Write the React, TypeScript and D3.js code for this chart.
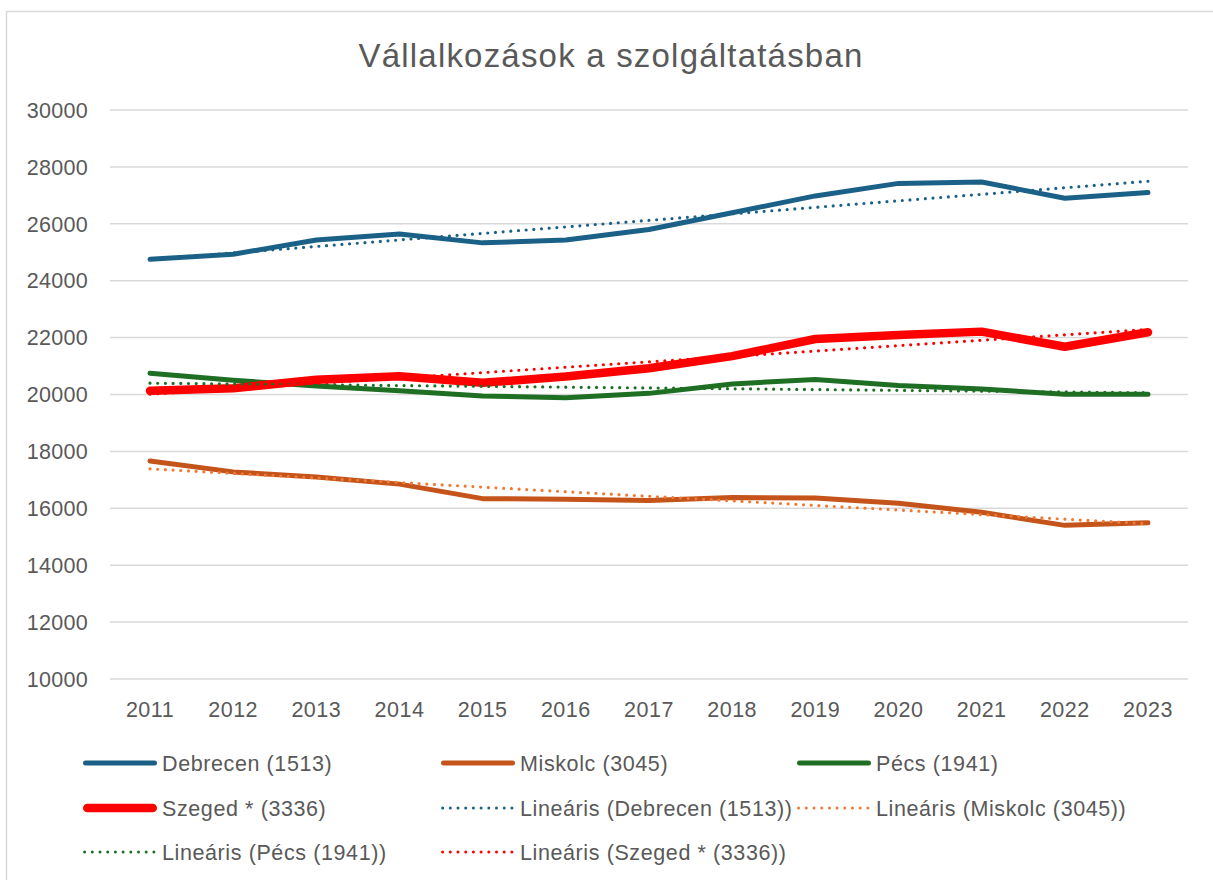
import React from "react";
import * as d3 from "d3";

const years = [2011, 2012, 2013, 2014, 2015, 2016, 2017, 2018, 2019, 2020, 2021, 2022, 2023];
const debrecen = [24750, 24930, 25430, 25640, 25330, 25430, 25800, 26390, 26980, 27420, 27470, 26900, 27100];
const miskolc = [17660, 17280, 17100, 16850, 16340, 16320, 16270, 16380, 16360, 16180, 15860, 15400, 15490];
const pecs = [20750, 20500, 20300, 20130, 19950, 19890, 20040, 20370, 20530, 20320, 20190, 20010, 20010];
const szeged = [20130, 20220, 20520, 20640, 20410, 20630, 20920, 21350, 21950, 22090, 22210, 21680, 22190];
const yTicks = [10000, 12000, 14000, 16000, 18000, 20000, 22000, 24000, 26000, 28000, 30000];
const title = "Vállalkozások a szolgáltatásban";

const seriesNames = ["Debrecen (1513)", "Miskolc (3045)", "Pécs (1941)", "Szeged * (3336)"];
const seriesValues = [debrecen, miskolc, pecs, szeged];
const seriesColors = ["#1B6187", "#C4541A", "#1E6E24", "#FF0000"];
const trendColors = ["#1B6187", "#EE7A35", "#1E6E24", "#FF0000"];
const seriesWidths = [5, 5, 5, 8.5];

const W = 1213;
const H = 880;
const FONT = "'Liberation Sans', Arial, sans-serif";
const GRAY = "#595959";

function linearFit(xs: number[], ys: number[]) {
  const n = xs.length;
  const mx = d3.mean(xs)!;
  const my = d3.mean(ys)!;
  let num = 0;
  let den = 0;
  for (let i = 0; i < n; i++) {
    num += (xs[i] - mx) * (ys[i] - my);
    den += (xs[i] - mx) * (xs[i] - mx);
  }
  const b = num / den;
  const a = my - b * mx;
  return xs.map((x) => a + b * x);
}

export default function App() {
  const x = d3.scalePoint<number>().domain(years).range([150, 1148]);
  const y = d3.scaleLinear().domain([10000, 30000]).range([679, 110]);
  const line = d3
    .line<number>()
    .x((_, i) => x(years[i])!)
    .y((v) => y(v));

  const trends = seriesValues.map((vals) => linearFit(years, vals));

  type LegendItem = { label: string; color: string; width: number; dotted: boolean };
  const legendItems: LegendItem[] = [
    ...seriesNames.map((n, i) => ({ label: n, color: seriesColors[i], width: seriesWidths[i], dotted: false })),
    ...seriesNames.map((n, i) => ({ label: `Lineáris (${n})`, color: trendColors[i], width: 3.2, dotted: true })),
  ];
  const colX = [83, 441, 797];
  const rowY = [763, 808, 852];

  return (
    <svg
      width={W}
      height={H}
      style={{ position: "absolute", left: 0, top: 0, background: "#fff" }}
      fontFamily={FONT}
    >
      <rect x={0} y={0} width={W} height={H} fill="#fff" />
      <path d={`M6.5,${H} V11.5 H${W}`} fill="none" stroke="#d9d9d9" strokeWidth={1.5} />
      <text x={611} y={67} textAnchor="middle" fontSize={33} letterSpacing={1.2} fill={GRAY}>
        {title}
      </text>
      {yTicks.map((t) => (
        <g key={t}>
          <line x1={110} x2={1188} y1={y(t)} y2={y(t)} stroke="#d9d9d9" strokeWidth={1.5} />
          <text x={88} y={y(t)} dy="0.36em" textAnchor="end" fontSize={21.5} letterSpacing={0.3} fill={GRAY}>
            {t}
          </text>
        </g>
      ))}
      {years.map((yr) => (
        <text key={yr} x={x(yr)} y={717} textAnchor="middle" fontSize={21.5} letterSpacing={0.5} fill={GRAY}>
          {yr}
        </text>
      ))}
      {seriesValues.map((vals, i) => (
        <path
          key={`s${i}`}
          d={line(vals)!}
          fill="none"
          stroke={seriesColors[i]}
          strokeWidth={seriesWidths[i]}
          strokeLinecap="round"
          strokeLinejoin="round"
        />
      ))}
      {trends.map((vals, i) => (
        <path
          key={`t${i}`}
          d={line(vals)!}
          fill="none"
          stroke={trendColors[i]}
          strokeWidth={3.2}
          strokeDasharray="0 7.7"
          strokeLinecap="round"
        />
      ))}
      {legendItems.map((it, k) => {
        const cx = colX[k % 3];
        const cy = rowY[Math.floor(k / 3)];
        return (
          <g key={`l${k}`}>
            <line
              x1={cx + it.width / 2}
              x2={cx + 74 - it.width / 2}
              y1={cy}
              y2={cy}
              stroke={it.color}
              strokeWidth={it.dotted ? 3 : it.width}
              strokeLinecap="round"
              strokeDasharray={it.dotted ? "0 7.7" : undefined}
            />
            <text x={cx + 79} y={cy} dy="0.36em" fontSize={21.5} letterSpacing={0.6} fill={GRAY}>
              {it.label}
            </text>
          </g>
        );
      })}
    </svg>
  );
}
